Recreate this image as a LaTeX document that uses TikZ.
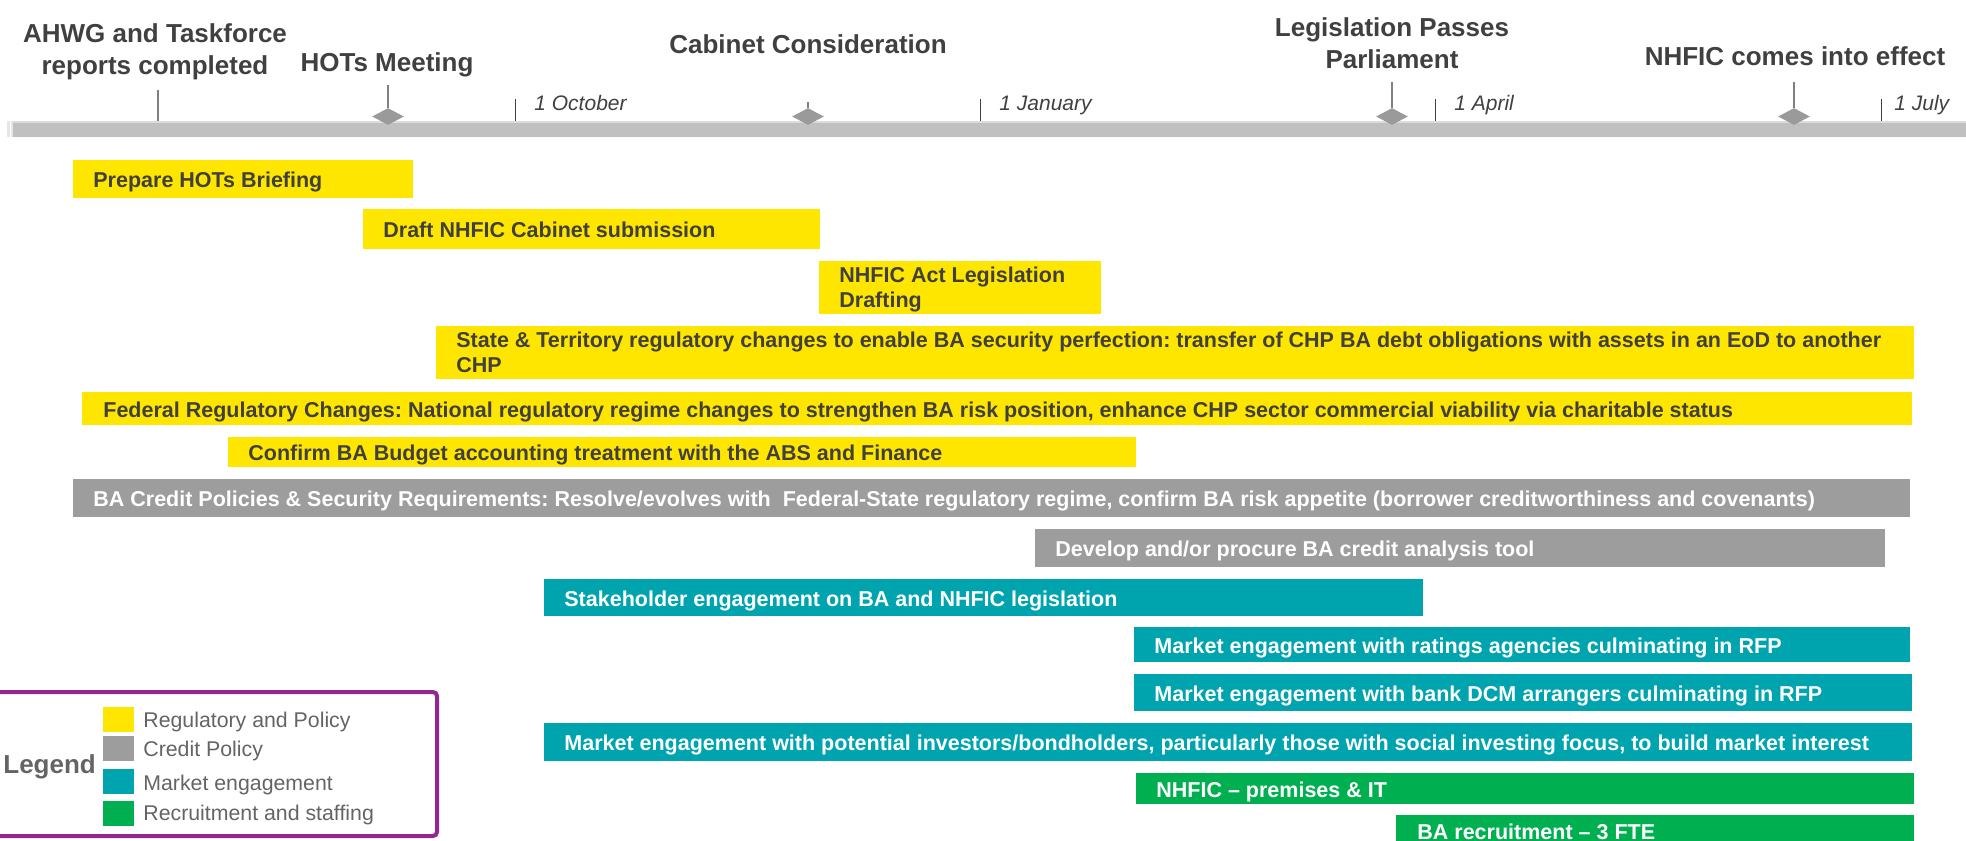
\documentclass[tikz,border=0pt]{standalone}
\usepackage{fontspec}
\setmainfont{Liberation Sans}
\usetikzlibrary{shapes.geometric}
\frenchspacing
\definecolor{regyellow}{HTML}{FFE600}
\definecolor{creditgrey}{HTML}{9D9D9D}
\definecolor{marketteal}{HTML}{00A4AE}
\definecolor{staffgreen}{HTML}{00B050}
\definecolor{linegrey}{HTML}{C0C0C0}
\definecolor{stonegrey}{HTML}{9A9A9A}
\definecolor{stemgrey}{HTML}{808080}
\definecolor{darktext}{HTML}{404040}
\definecolor{legendtext}{HTML}{646464}
\definecolor{legendpurple}{HTML}{93278F}
\begin{document}
\begin{tikzpicture}[x=0.5pt,y=-0.5pt,
  headlabel/.style={font=\fontsize{13}{16}\selectfont\bfseries,text=darktext,inner sep=0pt,align=center},
  monthlabel/.style={font=\fontsize{10.5}{12}\selectfont\itshape,text=darktext,inner sep=0pt,anchor=base west},
  milestone/.style={diamond,fill=stonegrey,inner sep=0pt,minimum width=16pt,minimum height=8.5pt},
  stem/.style={draw=stemgrey,line width=0.6pt},
  monthtick/.style={draw=darktext,line width=0.5pt},
  tasktext/.style={font=\fontsize{10.75}{12.5}\selectfont\bfseries,text=darktext,inner sep=0pt,anchor=base west},
  tasktextw/.style={tasktext,text=white},
  legendlabel/.style={font=\fontsize{10.65}{12}\selectfont,text=legendtext,inner sep=0pt,anchor=base west}]
\useasboundingbox (0,0) rectangle (1966,841);

% timeline
\fill[linegrey] (7,121) rectangle (1966,137);
\fill[white!45!linegrey] (7,121) rectangle (1966,122.5);
\fill[white!60!linegrey] (7,121) rectangle (13,137);
\fill[white] (9.5,121) rectangle (10.5,137);

% month ticks
\draw[monthtick] (515,99) -- (515,121);
\node[monthlabel] (oct) at (534,110) {1 October};
\draw[monthtick] (980,99) -- (980,121);
\node[monthlabel] (jan) at (999,110) {1 January};
\draw[monthtick] (1435,99) -- (1435,121);
\node[monthlabel] (apr) at (1454,110) {1 April};
\draw[monthtick] (1881,99) -- (1881,121);
\node[monthlabel] (jul) at (1894,110) {1 July};

% milestones
\draw[stem] (158,90) -- (158,121);
\node[headlabel,anchor=north] (ahwg) at (155,23) {AHWG and Taskforce\\reports completed};

\coordinate (hots top) at (388,85);
\node[milestone] (hots) at (388,116.5) {};
\draw[stem] (hots top) -- (hots.north);
\node[headlabel,anchor=base] (hots label) at (387,71) {HOTs Meeting};

\coordinate (cabinet top) at (808,102);
\node[milestone] (cabinet) at (808,116.5) {};
\draw[stem] (cabinet top) -- (cabinet.north);
\node[headlabel,anchor=base] (cabinet label) at (808,53) {Cabinet Consideration};

\coordinate (passes top) at (1392,82);
\node[milestone] (passes) at (1392,116.5) {};
\draw[stem] (passes top) -- (passes.north);
\node[headlabel,anchor=north] (passes label) at (1392,17) {Legislation Passes\\Parliament};

\coordinate (effect top) at (1794,82);
\node[milestone] (effect) at (1794,116.5) {};
\draw[stem] (effect top) -- (effect.north);
\node[headlabel,anchor=base] (effect label) at (1795,65) {NHFIC comes into effect};

% regulatory and policy
\fill[regyellow] (73,160) rectangle (413,198);
\node[tasktext] (briefing) at (93,187.5) {Prepare HOTs Briefing};
\fill[regyellow] (363,209) rectangle (820,249);
\node[tasktext] (submission) at (383,237.5) {Draft NHFIC Cabinet submission};
\fill[regyellow] (819,261) rectangle (1101,314);
\node[tasktext,anchor=north west,align=left] (drafting) at (839,267) {NHFIC Act Legislation\\Drafting};
\fill[regyellow] (436,326) rectangle (1914,379);
\node[tasktext,anchor=north west,align=left] (state) at (456,332) {State \& Territory regulatory changes to enable BA security perfection: transfer of CHP BA debt obligations with assets in an EoD to another\\CHP};
\fill[regyellow] (82,392) rectangle (1912,425);
\node[tasktext] (federal) at (103,417) {Federal Regulatory Changes: National regulatory regime changes to strengthen BA risk position, enhance CHP sector commercial viability via charitable status};
\fill[regyellow] (228,437) rectangle (1136,467);
\node[tasktext] (budget) at (248,460.5) {Confirm BA Budget accounting treatment with the ABS and Finance};

% credit policy
\fill[creditgrey] (73,479) rectangle (1910,517);
\node[tasktextw] (credit) at (93,506.5) {BA Credit Policies \& Security Requirements: Resolve/evolves with~ Federal-State regulatory regime, confirm BA risk appetite (borrower creditworthiness and covenants)};
\fill[creditgrey] (1035,529) rectangle (1885,567);
\node[tasktextw] (tool) at (1055,556.5) {Develop and/or procure BA credit analysis tool};

% market engagement
\fill[marketteal] (544,579) rectangle (1423,616);
\node[tasktextw] (stakeholder) at (564,606) {Stakeholder engagement on BA and NHFIC legislation};
\fill[marketteal] (1134,627) rectangle (1910,662);
\node[tasktextw] (ratings) at (1154,653) {Market engagement with ratings agencies culminating in RFP};
\fill[marketteal] (1134,674) rectangle (1912,711);
\node[tasktextw] (arrangers) at (1154,701) {Market engagement with bank DCM arrangers culminating in RFP};
\fill[marketteal] (544,723) rectangle (1912,761);
\node[tasktextw] (investors) at (564,750.5) {Market engagement with potential investors/bondholders, particularly those with social investing focus, to build market interest};

% recruitment and staffing
\fill[staffgreen] (1136,773) rectangle (1914,804);
\node[tasktextw] (premises) at (1156,797) {NHFIC – premises \& IT};
\fill[staffgreen] (1396,815) rectangle (1914,850);
\node[tasktextw] (recruit) at (1417,839) {BA recruitment – 3 FTE};

% legend
\draw[legendpurple,line width=2pt,rounded corners=2pt] (-10,692) rectangle (437,836);
\node[font=\fontsize{13}{16}\selectfont\bfseries,text=legendtext,inner sep=0pt,anchor=base west] (legend) at (3,773) {Legend};
\fill[regyellow] (103,707) rectangle (134,732);
\node[legendlabel] (reg key) at (143,727) {Regulatory and Policy};
\fill[creditgrey] (103,736) rectangle (134,761);
\node[legendlabel] (credit key) at (143,756) {Credit Policy};
\fill[marketteal] (103,769) rectangle (134,794);
\node[legendlabel] (market key) at (143,790) {Market engagement};
\fill[staffgreen] (103,801) rectangle (134,826);
\node[legendlabel] (staff key) at (143,820) {Recruitment and staffing};
\end{tikzpicture}
\end{document}
